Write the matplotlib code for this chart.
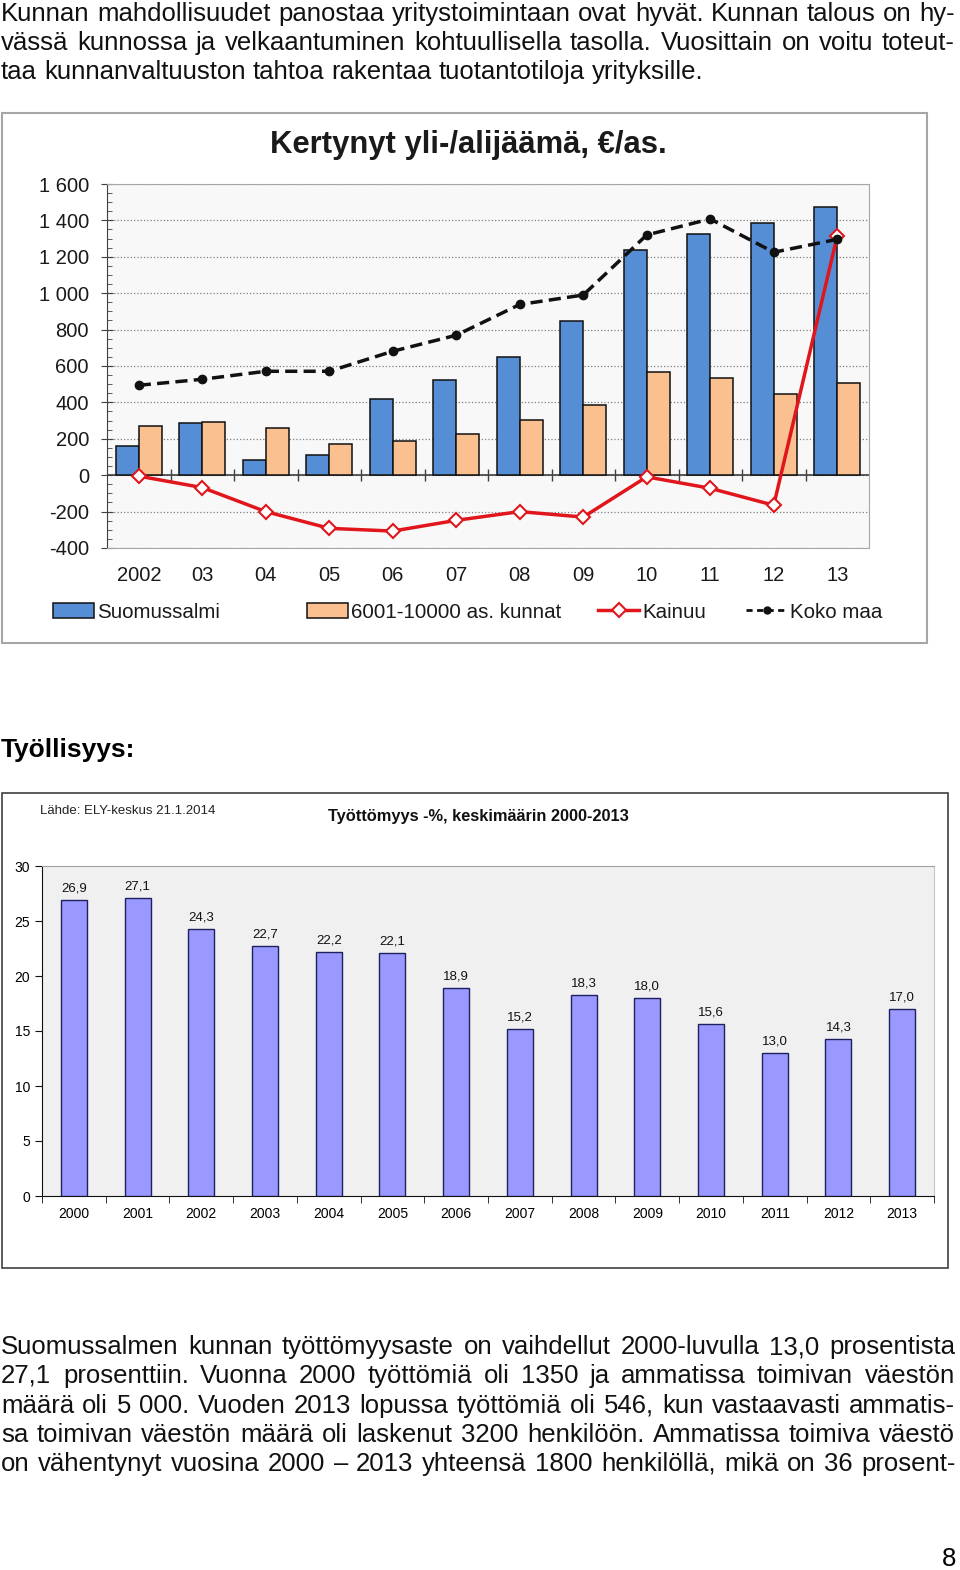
import numpy as np
import matplotlib
matplotlib.use('Agg')
import matplotlib.pyplot as plt
from matplotlib.patches import Rectangle
from matplotlib.lines import Line2D
from matplotlib.ticker import MultipleLocator, FixedLocator

plt.rcParams['font.family'] = ['Liberation Sans', 'DejaVu Sans']

W, H = 960, 1570

# --- data, chart 1: accumulated surplus/deficit, EUR per inhabitant
years1 = ['2002', '03', '04', '05', '06', '07', '08', '09', '10', '11', '12', '13']
suomussalmi = [163, 287, 86, 113, 417, 523, 650, 848, 1240, 1325, 1385, 1474]
kunnat = [268, 295, 259, 172, 187, 226, 306, 383, 567, 534, 448, 508]
kainuu = [-5, -68, -200, -292, -307, -248, -200, -230, -9, -72, -165, 1315]
koko_maa = [494, 527, 571, 571, 681, 769, 938, 990, 1320, 1408, 1225, 1296]
yticks1 = [-400, -200, 0, 200, 400, 600, 800, 1000, 1200, 1400, 1600]
ylabels1 = ['-400', '-200', '0', '200', '400', '600', '800', '1 000', '1 200', '1 400', '1 600']

# --- data, chart 2: unemployment %
years2 = [str(y) for y in range(2000, 2014)]
tyottomyys = [26.9, 27.1, 24.3, 22.7, 22.2, 22.1, 18.9, 15.2, 18.3, 18.0, 15.6, 13.0, 14.3, 17.0]

par1 = ['Kunnan mahdollisuudet panostaa yritystoimintaan ovat hyvät. Kunnan talous on hy-',
        'vässä kunnossa ja velkaantuminen kohtuullisella tasolla. Vuosittain on voitu toteut-',
        'taa kunnanvaltuuston tahtoa rakentaa tuotantotiloja yrityksille.']
par2 = ['Suomussalmen kunnan työttömyysaste on vaihdellut 2000-luvulla 13,0 prosentista',
        '27,1 prosenttiin. Vuonna 2000 työttömiä oli 1350 ja ammatissa toimivan väestön',
        'määrä oli 5 000. Vuoden 2013 lopussa työttömiä oli 546, kun vastaavasti ammatis-',
        'sa toimivan väestön määrä oli laskenut 3200 henkilöön. Ammatissa toimiva väestö',
        'on vähentynyt vuosina 2000 – 2013 yhteensä 1800 henkilöllä, mikä on 36 prosent-']


def fx(x):
    return x / W


def fy(y):
    return 1 - y / H


fig = plt.figure(figsize=(W / 100, H / 100), dpi=100)
fig.patch.set_facecolor('white')
rend = fig.canvas.get_renderer()


def paragraph(lines, baselines, size, last_full):
    for k, (line, yb) in enumerate(zip(lines, baselines)):
        words = line.split(' ')
        ts = [fig.text(0, fy(yb), w, fontsize=size, va='baseline', ha='left', color='#111111')
              for w in words]
        ws = [t.get_window_extent(rend).width for t in ts]
        if (k < len(lines) - 1 or last_full) and len(words) > 1:
            gap = (955 - 1 - sum(ws)) / (len(words) - 1)
        else:
            gap = size * 100 / 72 * 0.278
        x = 1
        for t, w in zip(ts, ws):
            t.set_x(fx(round(x)))
            x += w + gap


paragraph(par1, [21, 50, 79], 18.5, False)
paragraph(par2, [1354, 1383, 1413, 1442, 1471], 18.5, True)
fig.text(fx(1), fy(757), 'Työllisyys:', fontsize=19, fontweight='bold', va='baseline')
fig.text(fx(956), fy(1566), '8', fontsize=18.5, ha='right', va='baseline')

# ---------------- chart 1
fig.add_artist(Rectangle((fx(2), fy(643)), (927 - 2) / W, (643 - 113) / H, transform=fig.transFigure,
                         fill=False, edgecolor='#a6a6a6', lw=1.5))
fig.text(fx(468), fy(145), 'Kertynyt yli-/alijäämä, €/as.', fontsize=22.3, fontweight='bold',
         ha='center', va='center', color='#1a1a1a')

ax1 = fig.add_axes([fx(107), fy(548), (869 - 107) / W, (548 - 184) / H])
ax1.set_facecolor('#f8f8f8')
x1 = np.arange(len(years1))
bw = 0.36
b1 = ax1.bar(x1 - bw / 2, suomussalmi, bw, color='#558ed5', edgecolor='#111111', lw=1.1, zorder=3)
b2 = ax1.bar(x1 + bw / 2, kunnat, bw, color='#fac090', edgecolor='#111111', lw=1.1, zorder=3)
ax1.axhline(0, color='#404040', lw=1.2, zorder=2)
l1, = ax1.plot(x1, kainuu, color='#e0161c', lw=2.5, marker='D', ms=7, mfc='white', mec='#e0161c',
               mew=1.5, zorder=4)
l2, = ax1.plot(x1, koko_maa, color='#111111', lw=2.5, ls=(0, (3.5, 1.8)), marker='o', ms=6,
               zorder=5)
ax1.set_xlim(-0.5, len(years1) - 0.5)
ax1.set_ylim(-400, 1600)
ax1.set_yticks(yticks1, ylabels1, fontsize=14.5, color='#1a1a1a')
ax1.yaxis.set_minor_locator(MultipleLocator(50))
ax1.tick_params(axis='y', which='major', direction='inout', length=8, color='#404040', pad=9)
ax1.tick_params(axis='y', which='minor', direction='in', length=3.5, color='#404040')
ax1.set_xticks(x1, years1, fontsize=14.5, color='#1a1a1a')
ax1.tick_params(axis='x', length=0, pad=13)
ax1.grid(axis='y', ls=':', color='#7f7f7f', lw=0.9, zorder=1)
for s in ['top', 'right', 'bottom']:
    ax1.spines[s].set_color('#a6a6a6')
ax1.spines['left'].set_color('#404040')
zero_frac = (0 - ax1.get_ylim()[0]) / (ax1.get_ylim()[1] - ax1.get_ylim()[0])
sec = ax1.secondary_xaxis(zero_frac)
sec.set_xticks(x1[:-1] + 0.5, [])
sec.tick_params(direction='inout', length=9, color='#404040', width=1)
sec.spines['bottom'].set_visible(False)
sec.spines['top'].set_visible(False)

# legend proxy for the dashed series, with shorter dashes like the original key
l2_key = Line2D([], [], color='#111111', lw=2, ls=(0, (2.2, 1.6)), marker='o', ms=5)
legend_items = [(b1, 'Suomussalmi', 53), (b2, '6001-10000 as. kunnat', 307),
                (l1, 'Kainuu', 598), (l2_key, 'Koko maa', 746)]
for h, lab, xp in legend_items:
    fig.legend([h], [lab], loc='center left', bbox_to_anchor=(fx(xp), fy(612)), frameon=False,
               fontsize=14.8, handlelength=2.0, handletextpad=0.15, borderpad=0,
               borderaxespad=0, labelcolor='#1a1a1a')

# ---------------- chart 2
fig.add_artist(Rectangle((fx(2), fy(1268)), (948 - 2) / W, (1268 - 793) / H, transform=fig.transFigure,
                         fill=False, edgecolor='#404040', lw=1.2))
fig.text(fx(40), fy(811), 'Lähde: ELY-keskus 21.1.2014', fontsize=9.5, va='center', color='#222222')
fig.text(fx(478), fy(817), 'Työttömyys -%, keskimäärin 2000-2013', fontsize=11.8, fontweight='bold',
         ha='center', va='center', color='#111111')

ax2 = fig.add_axes([fx(42), fy(1196), (934 - 42) / W, (1196 - 866) / H])
ax2.set_facecolor('#f0f0f0')
x2 = np.arange(len(years2))
bars = ax2.bar(x2, tyottomyys, 0.41, color='#9999ff', edgecolor='#1f1f5f', lw=1, zorder=3)
ax2.bar_label(bars, labels=[f'{v:.1f}'.replace('.', ',') for v in tyottomyys], padding=4,
              fontsize=9.5, color='#111111')
ax2.set_xlim(-0.5, len(years2) - 0.5)
ax2.set_ylim(0, 30)
ax2.set_yticks(range(0, 31, 5))
ax2.yaxis.set_minor_locator(FixedLocator(range(5, 30, 5)))
ax2.grid(axis='y', which='minor', color='#111111', lw=1, zorder=1)
ax2.tick_params(axis='y', which='major', direction='out', length=5, color='#111111', labelsize=10,
                pad=3.5)
ax2.tick_params(axis='y', which='minor', length=0)
ax2.set_xticks(x2, years2)
ax2.xaxis.set_minor_locator(FixedLocator(np.arange(-0.5, len(years2), 1)))
ax2.tick_params(axis='x', which='major', length=0, labelsize=10, pad=8)
ax2.tick_params(axis='x', which='minor', direction='out', length=5, color='#111111')
ax2.spines['top'].set_color('#a0a0a0')
ax2.spines['right'].set_color('#c8c8c8')
ax2.spines['left'].set_color('#111111')
ax2.spines['bottom'].set_color('#111111')

fig.savefig('out.png', dpi=100)
